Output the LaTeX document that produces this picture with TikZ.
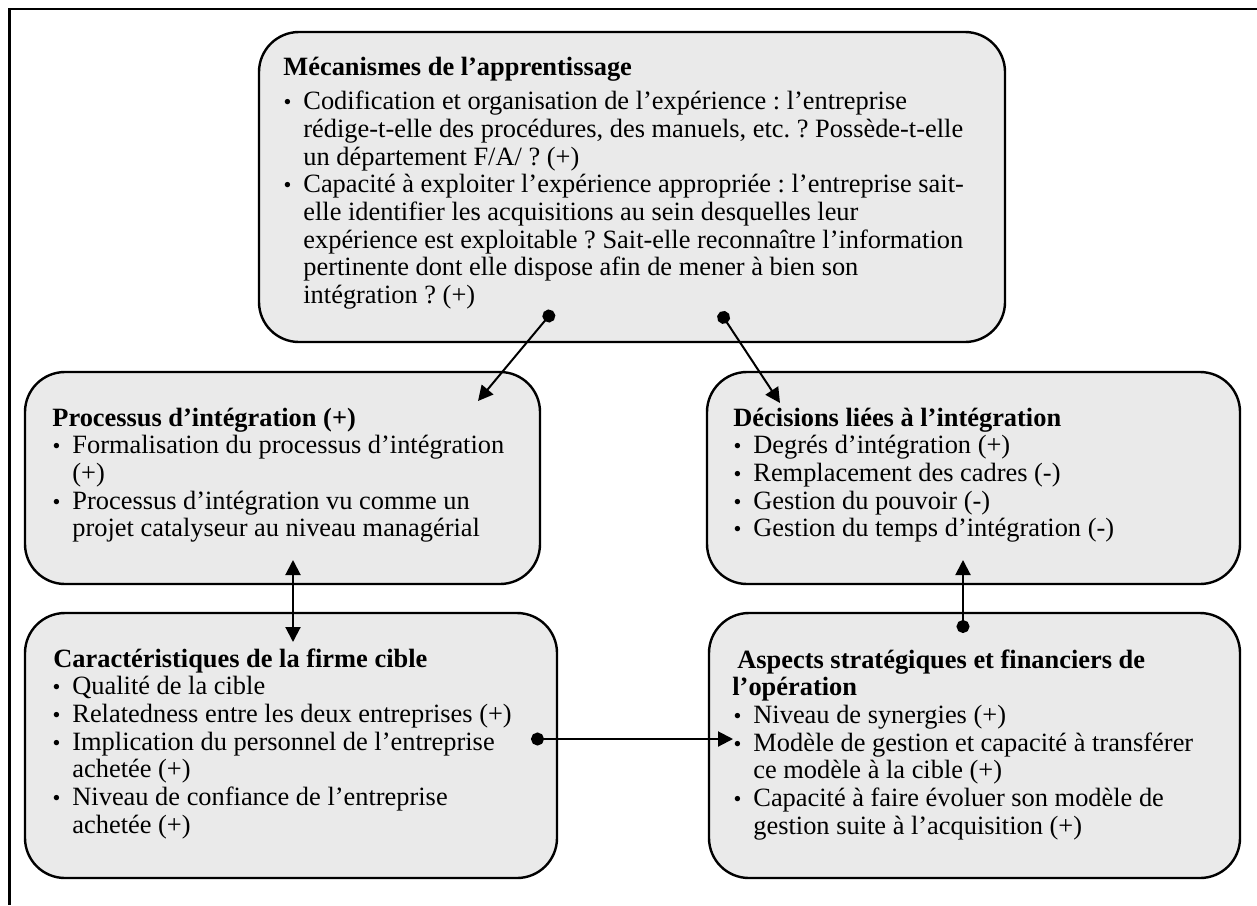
\documentclass[tikz,border=0pt]{standalone}
\usepackage{fontspec}
\setmainfont{Liberation Serif}
\usetikzlibrary{arrows.meta}
\definecolor{boxfill}{RGB}{234,234,234}
\frenchspacing

% bullet hanging to the left of an item's first line
\newcommand\bul{\leavevmode\llap{\scalebox{0.85}{\textbullet}\hspace{6pt}}}
% box heading, set out to the left of the items
\newcommand\hd[2][10pt]{\hspace*{-#1}\textbf{#2}}

\tikzset{
  box/.style={draw=black, line width=1.2pt, fill=boxfill, rounded corners=20pt,
              inner sep=0pt},
  txt/.style={inner sep=0pt, anchor=base west,
              font=\fontsize{13.2pt}{13.85pt}\selectfont},
  dotlink/.style={line width=1pt, {Circle[length=6.5pt]}-{Triangle[length=7.5pt,width=7.5pt]}},
  twoway/.style={line width=1pt, {Triangle[length=7.5pt,width=7.5pt]}-{Triangle[length=7.5pt,width=7.5pt]}},
}

\begin{document}
\begin{tikzpicture}[x=0.5pt, y=-0.5pt]
\useasboundingbox (0,0) rectangle (1257,905);

% frame
\draw[line width=1.4pt] (1257,9) -- (9.5,9) -- (9.5,905);

% boxes
\node[box, minimum width=373pt, minimum height=155pt] (mech) at (632,187) {};
\node[box, minimum width=257.5pt, minimum height=106pt] (proc) at (282.5,478) {};
\node[box, minimum width=266.5pt, minimum height=106pt] (dec) at (973.5,478) {};
\node[box, minimum width=266pt, minimum height=132.5pt] (cara) at (291,745.5) {};
\node[box, minimum width=265.5pt, minimum height=132.5pt] (asp) at (974.5,745.5) {};

% texts
\node[txt] (mechT) at (303,75) {\parbox[t]{360pt}{\raggedright
\hd{Mécanismes de l’apprentissage}\\[3.5pt]
\bul Codification et organisation de l’expérience : l’entreprise\\
rédige-t-elle des procédures, des manuels, etc. ? Possède-t-elle\\
un département F/A/ ? (+)\\
\bul Capacité à exploiter l’expérience appropriée : l’entreprise sait-\\
elle identifier les acquisitions au sein desquelles leur\\
expérience est exploitable ? Sait-elle reconnaître l’information\\
pertinente dont elle dispose afin de mener à bien son\\
intégration ? (+)}};

\node[txt] (procT) at (72,426) {\parbox[t]{240pt}{\raggedright
\hd{Processus d’intégration (+)}\\
\bul Formalisation du processus d’intégration\\
(+)\\
\bul Processus d’intégration vu comme un\\
projet catalyseur au niveau managérial}};

\node[txt] (decT) at (753,426) {\parbox[t]{240pt}{\raggedright
\hd{Décisions liées à l’intégration}\\
\bul Degrés d’intégration (+)\\
\bul Remplacement des cadres (-)\\
\bul Gestion du pouvoir (-)\\
\bul Gestion du temps d’intégration (-)}};

\node[txt] (caraT) at (72,667) {\parbox[t]{250pt}{\raggedright
\hd[9.5pt]{Caractéristiques de la firme cible}\\
\bul Qualité de la cible\\
\bul Relatedness entre les deux entreprises (+)\\
\bul Implication du personnel de l’entreprise\\
achetée (+)\\
\bul Niveau de confiance de l’entreprise\\
achetée (+)}};

\node[txt] (aspT) at (753,668) {\parbox[t]{250pt}{\raggedright
\hd[8pt]{Aspects stratégiques et financiers de}\\
\hd[10.5pt]{l’opération}\\
\bul Niveau de synergies (+)\\
\bul Modèle de gestion et capacité à transférer\\
ce modèle à la cible (+)\\
\bul Capacité à faire évoluer son modèle de\\
gestion suite à l’acquisition (+)}};

% connector ends
\coordinate (m1) at (553,311);
\coordinate (m2) at (720,312);
\coordinate (p1) at (478,401);
\coordinate (d1) at (780,403);
\coordinate (p2) at (293,560);
\coordinate (c1) at (293,642);
\coordinate (d2) at (963,560);
\coordinate (a1) at (963,633);
\coordinate (c2) at (531,739);
\coordinate (a2) at (733,739);

% connectors
\draw[dotlink] (m1) -- (p1);
\draw[dotlink] (m2) -- (d1);
\draw[twoway] (p2) -- (c1);
\draw[dotlink] (a1) -- (d2);
\draw[dotlink] (c2) -- (a2);
\end{tikzpicture}
\end{document}
